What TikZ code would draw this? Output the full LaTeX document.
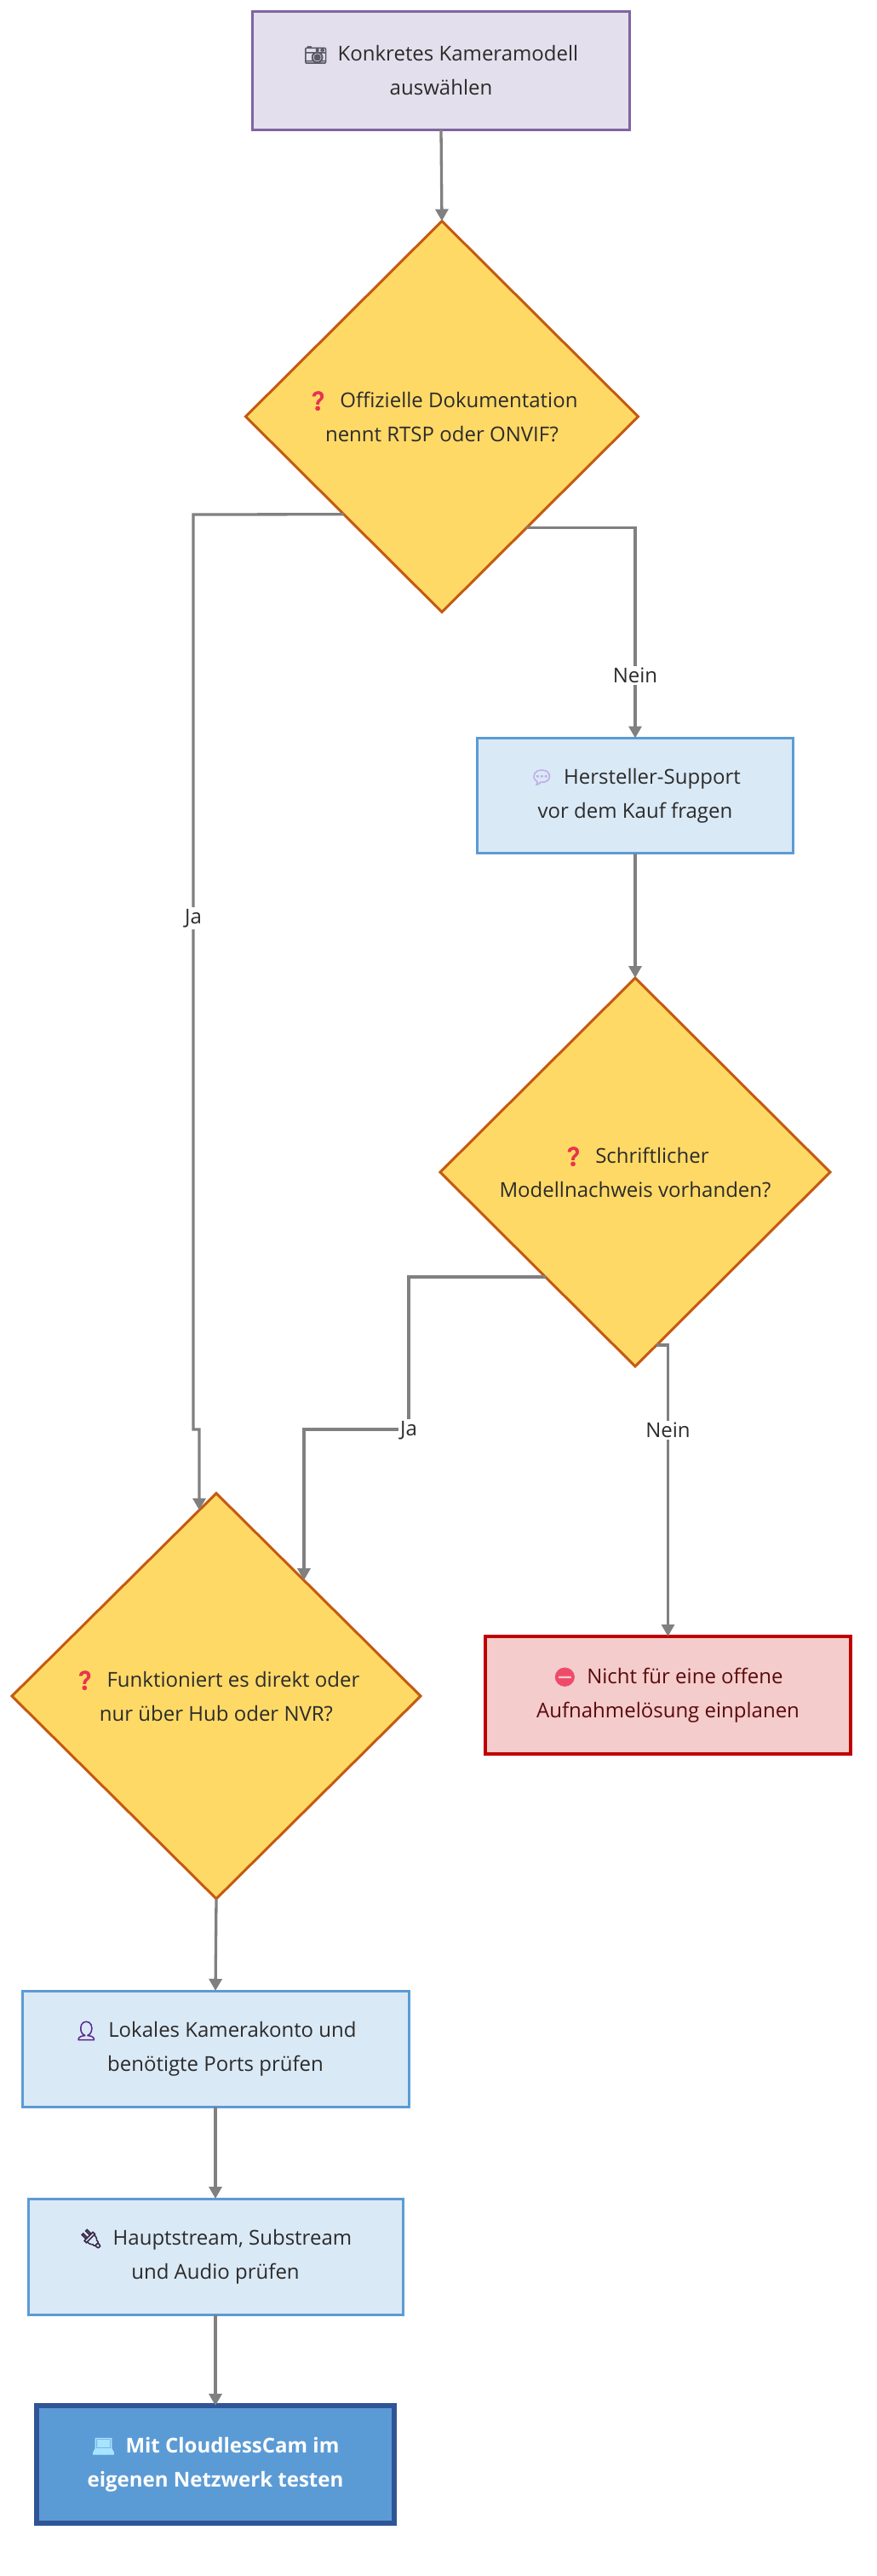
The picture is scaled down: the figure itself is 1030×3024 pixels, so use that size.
\documentclass[tikz,border=0pt]{standalone}
\usepackage{fontspec}
\setmainfont{Open Sans}
\newfontfamily\emo{Noto Emoji}[FakeBold=3]
\usetikzlibrary{shapes.geometric,arrows.meta,calc}
\definecolor{txt}{HTML}{2B2B2B}
\definecolor{purF}{HTML}{E4DFEC}
\definecolor{purB}{HTML}{8064A2}
\definecolor{diaF}{HTML}{FFD966}
\definecolor{diaB}{HTML}{C55A11}
\definecolor{bluF}{HTML}{DAE9F6}
\definecolor{bluB}{HTML}{5B9BD5}
\definecolor{redF}{HTML}{F4CCCC}
\definecolor{redB}{HTML}{C00000}
\definecolor{redT}{HTML}{5A0A0A}
\definecolor{finF}{HTML}{5B9BD5}
\definecolor{finB}{HTML}{2F5597}
\definecolor{arrC}{HTML}{808080}
\definecolor{eQ}{HTML}{E8344E}
\definecolor{eCam}{HTML}{5A5A66}
\definecolor{eBub}{HTML}{C0ACE8}
\definecolor{eNo}{HTML}{F04A6A}
\definecolor{ePer}{HTML}{5B2C8F}
\definecolor{ePlug}{HTML}{3A2A4A}
\definecolor{ePc}{HTML}{A8E4FF}
\newcommand{\mfs}{\fontsize{24pt}{40pt}\selectfont}
\newcommand{\ico}[2]{{\emo\fontsize{22pt}{40pt}\selectfont\color{#1}#2}\hspace{12pt}}
\tikzset{
  box/.style={rectangle, draw, line width=3pt, inner sep=0pt, outer sep=0pt,
    align=center, font=\mfs, text=txt},
  dia/.style={diamond, aspect=1, draw=diaB, fill=diaF, line width=3pt,
    inner sep=0pt, outer sep=0pt, align=center, font=\mfs, text=txt},
  arr/.style={draw=arrC, line width=3.3pt, -{Triangle[length=14pt,width=15pt]}},
  lbl/.style={fill=white, inner sep=2pt, font=\mfs, text=txt}
}
\begin{document}
\begin{tikzpicture}[x=1pt,y=-1pt]
\fill[white] (0,0) rectangle (1030,3024);
\useasboundingbox (0,0) rectangle (1030,3024);

\node[box, draw=purB, fill=purF, minimum width=443pt, minimum height=138pt] (A) at (518,83)
  {\ico{eCam}{📷}Konkretes Kameramodell\\auswählen};
\node[dia, minimum width=461pt, minimum height=459pt] (D1) at (519,489)
  {\ico{eQ}{❓}Offizielle Dokumentation\\nennt RTSP oder ONVIF?};
\node[box, draw=bluB, fill=bluF, minimum width=371pt, minimum height=135pt] (B) at (746,934)
  {\ico{eBub}{💬}Hersteller-Support\\vor dem Kauf fragen};
\node[dia, minimum width=458pt, minimum height=456pt] (D2) at (746,1376)
  {\ico{eQ}{❓}Schriftlicher\\Modellnachweis vorhanden?};
\node[box, draw=redB, fill=redF, text=redT, line width=3.5pt, minimum width=429pt, minimum height=138pt] (R) at (784.5,1990)
  {\ico{eNo}{⛔}Nicht für eine offene\\Aufnahmelösung einplanen};
\node[dia, minimum width=480pt, minimum height=476pt] (D3) at (254,1991)
  {\ico{eQ}{❓}Funktioniert es direkt oder\\nur über Hub oder NVR?};
\node[box, draw=bluB, fill=bluF, minimum width=454pt, minimum height=136pt] (L) at (253,2405)
  {\ico{ePer}{👤}Lokales Kamerakonto und\\benötigte Ports prüfen};
\node[box, draw=bluB, fill=bluF, minimum width=440pt, minimum height=136pt] (H) at (253,2649)
  {\ico{ePlug}{🔌}Hauptstream, Substream\\und Audio prüfen};
\node[box, draw=finB, fill=finF, text=white, line width=6pt, minimum width=420pt, minimum height=138pt,
  font=\mfs\bfseries] (F) at (253,2893)
  {\ico{ePc}{💻}Mit CloudlessCam im\\eigenen Netzwerk testen};

% connector coordinates
\coordinate (n1s) at ($(D1.south)!0.43!(D1.east)$);
\coordinate (j1a) at (227,604);
\coordinate (j1b) at (227,1678);
\coordinate (j1c) at (234,1678);
\coordinate (j1e) at ($(D3.north)!0.0833!(D3.west)$);
\coordinate (j2s) at ($(D2.south)!0.46!(D2.west)$);
\coordinate (j2b) at (480,1678);
\coordinate (j2e) at ($(D3.north)!0.429!(D3.east)$);
\coordinate (n2s) at ($(D2.south)!0.11!(D2.east)$);

\draw[arr] (A.south) -- (D1.north);
\draw[arr] (n1s) -| (B.north);
\draw[arr] (B.south) -- (D2.north);
\draw[arr] (D1.south west) -- (j1a) -- (j1b) -- (j1c) -- (j1c |- j1e);
\draw[arr] (j2s) -| (j2b) -| (j2e);
\draw[arr] (n2s) -| (R.north);
\draw[arr] (D3.south) -- (L.north);
\draw[arr] (L.south) -- (H.north);
\draw[arr] (H.south) -- (F.north);

\node[lbl] (l1) at (227,1078) {Ja};
\node[lbl] (l2) at (746,793) {Nein};
\node[lbl] (l3) at (480,1679) {Ja};
\node[lbl] (l4) at (784.5,1679) {Nein};
\end{tikzpicture}
\end{document}
